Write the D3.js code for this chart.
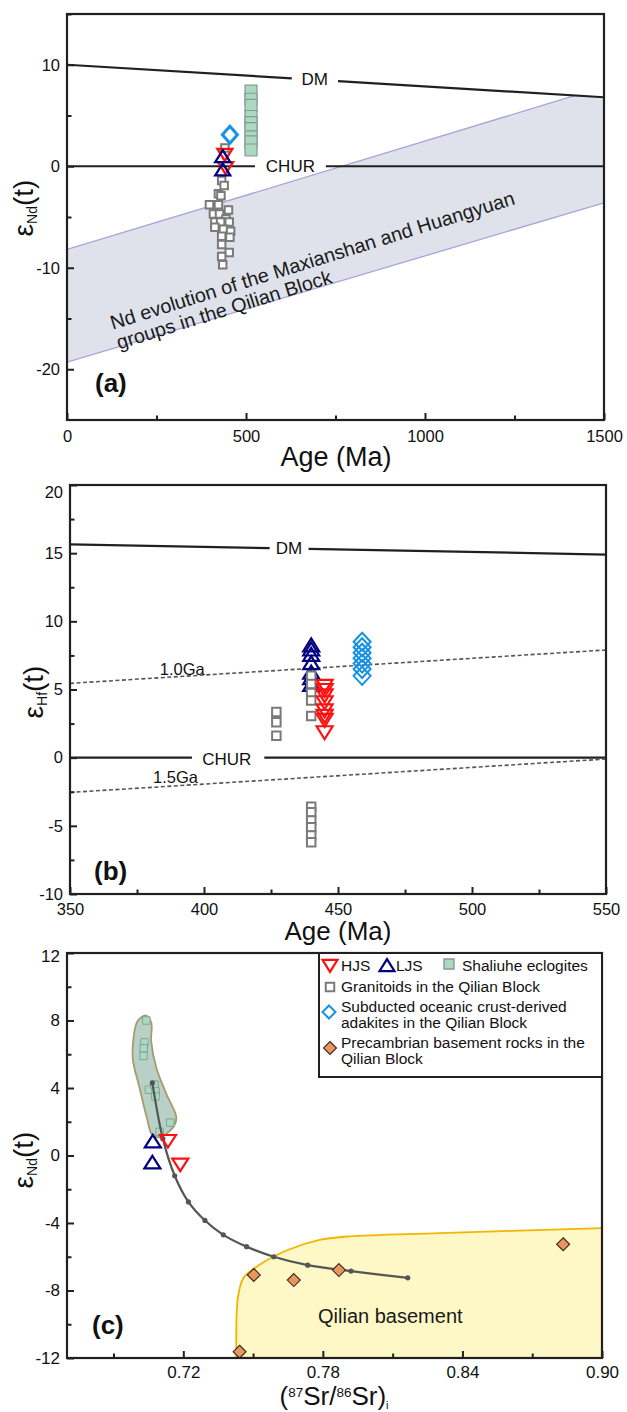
<!DOCTYPE html>
<html>
<head>
<meta charset="utf-8">
<script src="https://cdn.jsdelivr.net/npm/d3@7/dist/d3.min.js"></script>
<style>
body { margin: 0; background: #fff; }
svg { font-family: "Liberation Sans", Arial, Helvetica, sans-serif; }
</style>
</head>
<body>
<svg id="fig" width="627" height="1412"></svg>
<script>
// ---------- panel (a): eNd(t) vs age ----------
const A_GRANITOIDS = [[441,1.8],[432,-1.4],[439,-1.9],[423,-2.7],[430,-2.9],[398,-3.8],[423,-3.8],[451,-4.3],
  [409,-4.7],[426,-4.7],[444,-5.2],[413,-5.5],[429,-5.5],[453,-5.5],[413,-6.0],[437,-6.2],[457,-6.4],
  [432,-6.9],[455,-7.0],[432,-7.7],[453,-8.5],[432,-8.9],[435,-9.7]];
const A_ECLOGITES = [[514,7.4],[514,6.6],[514,6.0],[514,4.9],[514,4.3],[514,3.7],[514,2.9],[514,2.4],[514,1.6]];
const A_HJS = [[441,1.2],[443,-0.1]];
const A_LJS = [[435,0.9],[435,-0.4]];
const A_ADAKITES = [[455,3.1]];
const A_DM = [[0,10],[1500,6.8]];
const A_CHUR = [[0,0],[1500,0]];
const A_BAND_TOP = [[0,-8.2],[1422,7.0],[1500,6.8]];
const A_BAND_BOTTOM = [[0,-19.3],[1500,-3.6]];
const A_X_TICKS = [0,500,1000,1500], A_X_MINOR = [250,750,1250];
const A_Y_TICKS = [-20,-10,0,10], A_Y_MINOR = [-15,-5,5,15];

// ---------- panel (b): eHf(t) vs age ----------
const B_GRANITOIDS = [[427,3.35],[427,2.6],[427,1.6],[440,6.0],[440,5.4],[440,4.75],[440,4.2],[440,3.05],
  [440,-3.6],[440,-4.0],[440,-4.6],[440,-5.1],[440,-5.7],[440,-6.2]];
const B_HJS = [[445,5.3],[445,5.0],[445,4.6],[445,4.1],[445,3.5],[445,3.1],[445,2.8],[445,1.9]];
const B_LJS = [[440,8.2],[440,7.9],[440,7.5],[440,6.9],[440,6.2],[440,5.8],[440,5.3]];
const B_ADAKITES = [[459,8.5],[459,8.1],[459,7.7],[459,7.3],[459,6.9],[459,6.5],[459,6.0]];
const B_DM = [[350,15.65],[550,14.9]];
const B_CHUR = [[350,0],[550,0]];
const B_GA10 = [[350,5.45],[550,7.9]];
const B_GA15 = [[350,-2.55],[550,-0.1]];
const B_X_TICKS = [350,400,450,500,550], B_X_MINOR = [375,425,475,525];
const B_Y_TICKS = [-10,-5,0,5,10,15,20], B_Y_MINOR = [-7.5,-2.5,2.5,7.5,12.5,17.5];

// ---------- panel (c): eNd(t) vs (87Sr/86Sr)i ----------
const C_ECLOGITES = [[0.7041,8.0],[0.7033,6.7],[0.7030,6.35],[0.7029,5.9],[0.7052,3.9],[0.7076,4.2],
  [0.7081,3.8],[0.7080,3.5],[0.7144,1.95],[0.7098,1.4]];
const C_HJS = [[0.7134,0.9],[0.7187,-0.5]];
const C_LJS = [[0.7069,0.8],[0.7067,-0.45]];
const C_BASEMENT = [[0.7503,-7.08],[0.7675,-7.38],[0.7869,-6.79],[0.8833,-5.26],[0.7442,-11.63]];
const C_MIXING = [[0.7067,4.3],[0.7112,1.0],[0.7163,-1.2],[0.7222,-2.75],[0.7293,-3.85],[0.7372,-4.7],
  [0.7472,-5.4],[0.7589,-6.0],[0.7735,-6.5],[0.7921,-6.85],[0.8165,-7.25]];
const C_ECLOGITE_FIELD = [[0.7038,8.3],[0.7062,7.9],[0.7062,6.75],[0.7084,5.2],[0.7127,3.65],[0.7170,2.25],
  [0.7155,1.65],[0.7098,1.08],[0.7067,1.2],[0.7043,2.25],[0.7012,4.0],[0.6983,5.7],[0.6986,6.95],[0.7003,7.95]];
const C_BASEMENT_FIELD = [[0.7428,-12],[0.7428,-11.9],[0.7434,-8.5],[0.7459,-7.25],[0.7528,-6.47],[0.7649,-5.6],
  [0.7786,-5.0],[0.7907,-4.8],[0.8303,-4.6],[0.90,-4.3]];
const C_X_TICKS = [0.72,0.78,0.84,0.90], C_X_MINOR = [0.69,0.75,0.81,0.87];
const C_Y_TICKS = [-12,-8,-4,0,4,8,12], C_Y_MINOR = [-10,-6,-2,2,6,10];

const svg = d3.select("#fig");
const INK = "#231f20";
const RED = "#ff1010", NAVY = "#000080", BLUE = "#1592e2", GREY = "#7a7a7a";
const ECLO_FILL = "#a9d9c1", ORANGE = "#e8955e";

function makePanel(name, box, xd, yd) {
  const x = d3.scaleLinear().domain(xd).range([box.l, box.r]);
  const y = d3.scaleLinear().domain(yd).range([box.b, box.t]);
  svg.append("clipPath").attr("id", "clip-" + name).append("rect")
    .attr("x", box.l).attr("y", box.t).attr("width", box.r - box.l).attr("height", box.b - box.t);
  const plot = svg.append("g").attr("clip-path", `url(#clip-${name})`);
  const marks = svg.append("g");
  return {x, y, box, plot, marks};
}

function axes(P, o) {
  const {x, y, box} = P;
  const fmt = o.fmt || (d => String(d));
  const fix = (s, fs) => {
    s.select(".domain").remove();
    s.selectAll("line").attr("stroke", INK).attr("stroke-width", 2);
    s.selectAll("text").attr("font-size", fs).attr("font-family", null).attr("fill", "#111");
  };
  svg.append("g").attr("transform", `translate(0,${box.b})`)
    .call(d3.axisBottom(x).tickValues(o.xMinor).tickSize(-4.5).tickFormat("")).call(s => fix(s, 0));
  svg.append("g").attr("transform", `translate(0,${box.b})`)
    .call(d3.axisBottom(x).tickValues(o.xTicks).tickSize(-7).tickPadding(o.xPad).tickFormat(o.xFmt || fmt))
    .call(s => fix(s, o.fs));
  svg.append("g").attr("transform", `translate(${box.l},0)`)
    .call(d3.axisLeft(y).tickValues(o.yMinor).tickSize(-4.5).tickFormat("")).call(s => fix(s, 0));
  const ya = svg.append("g").attr("transform", `translate(${box.l},0)`)
    .call(d3.axisLeft(y).tickValues(o.yTicks).tickSize(-7).tickPadding(o.yPad).tickFormat(fmt))
    .call(s => fix(s, o.fs));
  if (o.topShift) ya.selectAll(".tick text").filter(d => d === o.yTicks[o.yTicks.length - 1]).attr("dy", `${0.32 + o.topShift}em`);
  svg.append("rect").attr("x", box.l).attr("y", box.t).attr("width", box.r - box.l).attr("height", box.b - box.t)
    .attr("fill", "none").attr("stroke", INK).attr("stroke-width", 2.2);
}

function shapePath(shape, w, h) {
  const a = w / 2, b = (h || w) / 2;
  if (shape === "square") return `M${-a},${-b}H${a}V${b}H${-a}Z`;
  if (shape === "diamond") return `M0,${-b}L${a},0L0,${b}L${-a},0Z`;
  if (shape === "triUp") return `M0,${-b * 1.15}L${a},${b * 0.85}L${-a},${b * 0.85}Z`;
  if (shape === "triDown") return `M0,${b * 1.15}L${a},${-b * 0.85}L${-a},${-b * 0.85}Z`;
}
function points(P, data, st) {
  P.marks.append("g").selectAll("path").data(data).join("path")
    .attr("transform", d => `translate(${P.x(d[0])},${P.y(d[1])})`)
    .attr("d", shapePath(st.shape, st.w, st.h))
    .attr("fill", st.fill).attr("stroke", st.stroke).attr("stroke-width", st.sw);
}

// straight reference line with a gap left open for its label
function refLine(P, pts, gap, label, st) {
  const f = d3.scaleLinear().domain([pts[0][0], pts[1][0]]).range([pts[0][1], pts[1][1]]);
  const line = d3.line().x(d => P.x(d[0])).y(d => P.y(d[1]));
  const segs = gap ? [[pts[0], [gap[0], f(gap[0])]], [[gap[1], f(gap[1])], pts[1]]] : [pts];
  segs.forEach(s => P.plot.append("path").attr("d", line(s)).attr("fill", "none")
    .attr("stroke", st.stroke).attr("stroke-width", st.sw).attr("stroke-dasharray", st.dash || null));
  if (label) {
    const lx = label.x, ly = label.y !== undefined ? label.y : f(lx);
    P.marks.append("text").attr("x", P.x(lx)).attr("y", P.y(ly) + (label.dy || 0))
      .attr("text-anchor", label.anchor || "middle").attr("dominant-baseline", label.base || "central")
      .attr("font-size", label.fs).attr("fill", "#111").text(label.text);
  }
}

function yTitle(x, y, sub) {
  const t = svg.append("text").attr("transform", `translate(${x},${y}) rotate(-90)`)
    .attr("text-anchor", "middle").attr("fill", "#111");
  t.append("tspan").attr("font-size", 28).text("ε");
  t.append("tspan").attr("font-size", 14).attr("dy", 4).text(sub);
  t.append("tspan").attr("font-size", 28).attr("dy", -4).text("(t)");
}
function tag(x, y, s) {
  svg.append("text").attr("x", x).attr("y", y).attr("font-size", 26).attr("font-weight", "bold")
    .attr("fill", "#111").text(s);
}

const SQ = (w) => ({shape: "square", w, fill: "#fff", stroke: GREY, sw: 2});

// ================= (a) =================
const PA = makePanel("a", {l: 67, r: 604, t: 14, b: 420}, [0, 1500], [-25, 15]);
{
  const {x, y} = PA;
  const area = d3.area().x(d => x(d[0])).y0(d => y(d[1])).y1(d => y(d[2]));
  const top = d3.scaleLinear().domain(A_BAND_TOP.map(d => d[0])).range(A_BAND_TOP.map(d => d[1]));
  const bot = d3.scaleLinear().domain(A_BAND_BOTTOM.map(d => d[0])).range(A_BAND_BOTTOM.map(d => d[1]));
  const xs = A_BAND_TOP.map(d => d[0]);
  PA.plot.append("path").attr("d", area(xs.map(v => [v, bot(v), top(v)])))
    .attr("fill", "#dfe2ea");
  const line = d3.line().x(d => x(d[0])).y(d => y(d[1]));
  PA.plot.append("path").attr("d", line(A_BAND_TOP.slice(0, 2))).attr("fill", "none").attr("stroke", "#a9a3d8").attr("stroke-width", 1.3);
  PA.plot.append("path").attr("d", line(A_BAND_BOTTOM)).attr("fill", "none").attr("stroke", "#a9a3d8").attr("stroke-width", 1.3);

  refLine(PA, A_DM, [628, 757], {x: 692, text: "DM", fs: 17}, {stroke: INK, sw: 2.2});
  refLine(PA, A_CHUR, [525, 723], {x: 624, text: "CHUR", fs: 17}, {stroke: INK, sw: 2.2});

  const ang = Math.atan2(y(-3.6) - y(-19.3), x(1500) - x(0)) * 180 / Math.PI - 0.8;
  const bt = PA.marks.append("text").attr("transform", `translate(${x(128)},${y(-16.1)}) rotate(${ang})`)
    .attr("font-size", 19.8).attr("fill", "#1a1a1a");
  bt.append("tspan").attr("x", 0).text("Nd evolution of the Maxianshan and Huangyuan");
  bt.append("tspan").attr("x", 0).attr("dy", "1.05em").text("groups in the Qilian Block");

  points(PA, A_ECLOGITES, {shape: "square", w: 12, fill: ECLO_FILL, stroke: "#8a9890", sw: 1.2});
  points(PA, A_GRANITOIDS, SQ(7.5));
  points(PA, A_HJS, {shape: "triDown", w: 15, h: 12, fill: "none", stroke: RED, sw: 2.3});
  points(PA, A_LJS, {shape: "triUp", w: 15, h: 12, fill: "none", stroke: NAVY, sw: 2.3});
  points(PA, A_ADAKITES, {shape: "diamond", w: 15, h: 17, fill: "none", stroke: BLUE, sw: 3});
}
axes(PA, {xTicks: A_X_TICKS, xMinor: A_X_MINOR, yTicks: A_Y_TICKS, yMinor: A_Y_MINOR, xPad: 10, yPad: 7, fs: 16.5});
yTitle(33, 208, "Nd");
tag(95, 392, "(a)");
svg.append("text").attr("x", 336).attr("y", 466).attr("text-anchor", "middle").attr("font-size", 27).attr("fill", "#111").text("Age (Ma)");

// ================= (b) =================
const PB = makePanel("b", {l: 70, r: 606, t: 485, b: 894}, [350, 550], [-10, 20]);
{
  refLine(PB, B_DM, [424.5, 439], {x: 431.7, text: "DM", fs: 17}, {stroke: INK, sw: 2.2});
  refLine(PB, B_CHUR, [395.5, 422.5], {x: 408.5, text: "CHUR", fs: 17, dy: 2}, {stroke: INK, sw: 2.2});
  refLine(PB, B_GA10, null, {x: 383.5, y: 6.5, text: "1.0Ga", fs: 16.5, anchor: "start"}, {stroke: "#555", sw: 1.6, dash: "4,2.5"});
  refLine(PB, B_GA15, null, {x: 381, y: -1.45, text: "1.5Ga", fs: 16.5, anchor: "start"}, {stroke: "#555", sw: 1.6, dash: "4,2.5"});

  points(PB, B_LJS, {shape: "triUp", w: 16, h: 13, fill: "none", stroke: NAVY, sw: 2.2});
  points(PB, B_GRANITOIDS, SQ(8.5));
  points(PB, B_HJS, {shape: "triDown", w: 16, h: 13, fill: "none", stroke: RED, sw: 2.2});
  points(PB, B_ADAKITES, {shape: "diamond", w: 17, h: 18, fill: "none", stroke: BLUE, sw: 2});
}
axes(PB, {xTicks: B_X_TICKS, xMinor: B_X_MINOR, yTicks: B_Y_TICKS, yMinor: B_Y_MINOR, xPad: 9, yPad: 7, fs: 16.5, topShift: 0.45});
yTitle(43, 692, "Hf");
tag(94, 880, "(b)");
svg.append("text").attr("x", 338).attr("y", 940).attr("text-anchor", "middle").attr("font-size", 26).attr("fill", "#111").text("Age (Ma)");

// ================= (c) =================
const PC = makePanel("c", {l: 67, r: 602, t: 953, b: 1358}, [0.67, 0.90], [-12, 12]);
{
  const {x, y} = PC;
  const curve = d3.line().x(d => x(d[0])).y(d => y(d[1])).curve(d3.curveCatmullRom);
  PC.plot.append("path").attr("d", curve(C_BASEMENT_FIELD) + `L${x(0.90)},${y(-12)}L${x(0.7428)},${y(-12)}Z`)
    .attr("fill", "#fdf8c5");
  PC.plot.append("path").attr("d", curve(C_BASEMENT_FIELD))
    .attr("fill", "none").attr("stroke", "#f4b400").attr("stroke-width", 1.8);
  PC.marks.append("text").attr("x", x(0.809)).attr("y", y(-9.9)).attr("text-anchor", "middle")
    .attr("font-size", 20).attr("fill", "#1a1a1a").text("Qilian basement");

  PC.plot.append("path").attr("d", d3.line().x(d => x(d[0])).y(d => y(d[1])).curve(d3.curveCatmullRomClosed)(C_ECLOGITE_FIELD))
    .attr("fill", "#b9d0c7").attr("stroke", "#a39d6e").attr("stroke-width", 1.8);
  points(PC, C_ECLOGITES, {shape: "square", w: 7.5, fill: ECLO_FILL, stroke: "#86a394", sw: 1});

  PC.marks.append("path").attr("d", curve(C_MIXING))
    .attr("fill", "none").attr("stroke", "#555").attr("stroke-width", 2.2);
  PC.marks.append("g").selectAll("circle").data(C_MIXING).join("circle")
    .attr("cx", d => x(d[0])).attr("cy", d => y(d[1])).attr("r", 2.6).attr("fill", "#555");

  points(PC, C_BASEMENT, {shape: "diamond", w: 13, h: 13, fill: ORANGE, stroke: "#3a2a22", sw: 1.1});
  points(PC, C_LJS, {shape: "triUp", w: 16, h: 12.5, fill: "none", stroke: NAVY, sw: 2.2});
  points(PC, C_HJS, {shape: "triDown", w: 16, h: 12.5, fill: "none", stroke: RED, sw: 2.2});
}
axes(PC, {xTicks: C_X_TICKS, xMinor: C_X_MINOR, yTicks: C_Y_TICKS, yMinor: C_Y_MINOR, xPad: 8, yPad: 7, fs: 17,
  xFmt: d3.format(".2f"), topShift: 0.2});
yTitle(33, 1160, "Nd");
tag(92, 1334, "(c)");
{
  const t = svg.append("text").attr("x", 334).attr("y", 1405).attr("text-anchor", "middle").attr("fill", "#111");
  t.append("tspan").attr("font-size", 26).text("(");
  t.append("tspan").attr("font-size", 13.5).attr("dy", -8.5).text("87");
  t.append("tspan").attr("font-size", 26).attr("dy", 8.5).text("Sr/");
  t.append("tspan").attr("font-size", 13.5).attr("dy", -8.5).text("86");
  t.append("tspan").attr("font-size", 26).attr("dy", 8.5).text("Sr)");
  t.append("tspan").attr("font-size", 11).attr("dy", 3.5).text("i");
}

// legend
{
  const lg = svg.append("g");
  lg.append("rect").attr("x", 319).attr("y", 953).attr("width", 602 - 319).attr("height", 1077 - 953)
    .attr("fill", "#fff").attr("stroke", INK).attr("stroke-width", 2);
  const sym = (cx, cy, st) => lg.append("path").attr("transform", `translate(${cx},${cy})`)
    .attr("d", shapePath(st.shape, st.w, st.h)).attr("fill", st.fill).attr("stroke", st.stroke).attr("stroke-width", st.sw);
  const txt = (x0, y0, s) => lg.append("text").attr("x", x0).attr("y", y0).attr("font-size", 15.5).attr("fill", "#111").text(s);
  sym(330, 965, {shape: "triDown", w: 15, h: 12, fill: "none", stroke: RED, sw: 2.2});
  txt(341, 971, "HJS");
  sym(387, 966, {shape: "triUp", w: 15, h: 12, fill: "none", stroke: NAVY, sw: 2.2});
  txt(396, 971, "LJS");
  sym(449, 964, {shape: "square", w: 10, fill: ECLO_FILL, stroke: "#8a9890", sw: 1.4});
  txt(462, 971, "Shaliuhe eclogites");
  sym(330, 987, {shape: "square", w: 8.5, fill: "#fff", stroke: GREY, sw: 2});
  txt(341, 992, "Granitoids in the Qilian Block");
  sym(329, 1012, {shape: "diamond", w: 13, h: 13, fill: "none", stroke: BLUE, sw: 2});
  txt(341, 1012, "Subducted oceanic crust-derived");
  txt(341, 1028, "adakites in the Qilian Block");
  sym(330, 1048, {shape: "diamond", w: 13, h: 13, fill: ORANGE, stroke: "#3a2a22", sw: 1.1});
  txt(341, 1048, "Precambrian basement rocks in the");
  txt(341, 1064, "Qilian Block");
}
</script>
</body>
</html>
